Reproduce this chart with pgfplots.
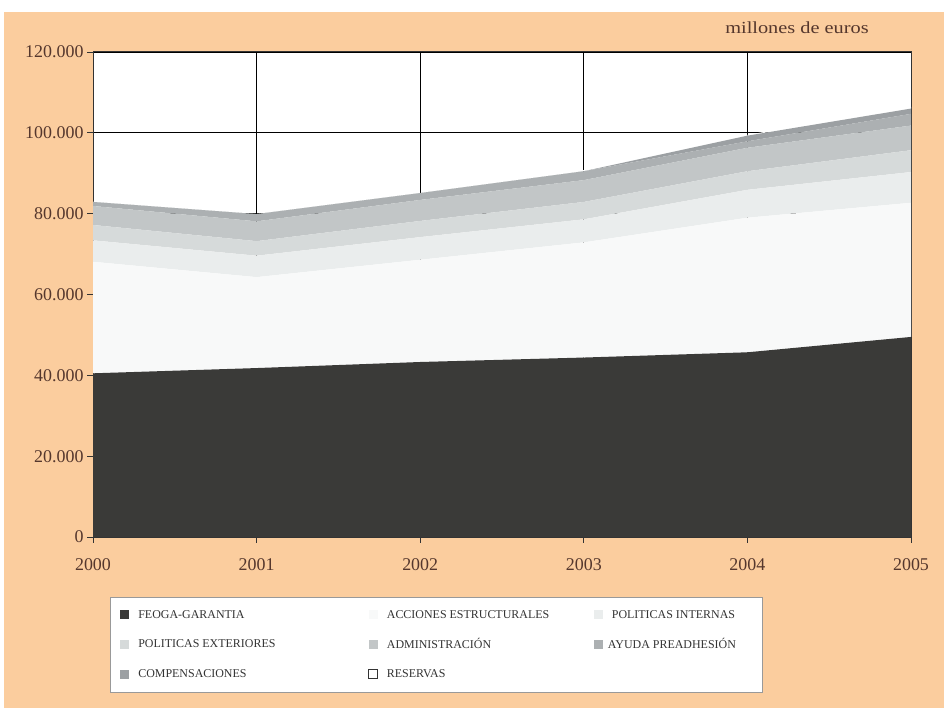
\documentclass[border=0pt]{standalone}
\usepackage{pgfplots}
\pgfplotsset{compat=1.18}
\usepackage{fontspec}
\setmainfont{Liberation Serif}

\definecolor{peach}{RGB}{251,205,158}
\definecolor{txtbrown}{RGB}{85,55,45}
\definecolor{cfeoga}{RGB}{58,58,56}
\definecolor{cestr}{RGB}{248,249,249}
\definecolor{cint}{RGB}{234,237,237}
\definecolor{cext}{RGB}{214,218,218}
\definecolor{cadm}{RGB}{194,198,199}
\definecolor{cpre}{RGB}{172,176,178}
\definecolor{ccomp}{RGB}{156,160,163}

\begin{document}
\begin{tikzpicture}
\fill[white] (0,0) rectangle (949bp,708bp);
\fill[peach] (4bp,0) rectangle (944bp,696bp);
\node[anchor=base, text=txtbrown, font=\fontsize{17}{19}\selectfont\addfontfeature{FakeStretch=1.2}] at (797bp,674bp) {millones de euros};

\begin{axis}[
  at={(93bp,171bp)}, anchor=south west,
  width=818bp, height=485bp, scale only axis,
  xmin=2000, xmax=2005, ymin=0, ymax=120000,
  stack plots=y,
  scaled y ticks=false,
  xtick={2000,2001,2002,2003,2004,2005},
  xticklabels={2000,2001,2002,2003,2004,2005},
  ytick={0,20000,40000,60000,80000,100000,120000},
  yticklabels={0,20.000,40.000,60.000,80.000,100.000,120.000},
  xmajorgrids, ymajorgrids,
  grid style={black, line width=0.7bp},
  axis line style={draw=black!80, line width=1bp},
  tick align=outside, xtick pos=left, ytick pos=left,
  major tick length=6bp,
  tick style={black!80, line width=0.8bp},
  ticklabel style={font=\fontsize{18}{20}\selectfont, text=txtbrown},
  xticklabel style={yshift=-12bp},
  axis background/.style={fill=white},
  legend columns=3,
  legend image code/.code={\fill[#1] (0bp,-4.5bp) rectangle (9bp,4.5bp);},
  legend style={at={(0.0208,-0.1237)}, anchor=north west,
    draw=black!40, fill=white, line width=0.6bp,
    font=\fontsize{12}{14}\selectfont, text=black!80,
    row sep=15bp, inner xsep=10bp, inner ysep=11bp},
]
\addplot[fill=cfeoga, draw=none] coordinates {
  (2000,40500) (2001,41800) (2002,43300) (2003,44400) (2004,45700) (2005,49500)} \closedcycle;
\addlegendentry{\makebox[235bp][l]{\hspace{7bp}FEOGA-GARANTIA}}
\addplot[fill=cestr, draw=none] coordinates {
  (2000,27600) (2001,22500) (2002,25300) (2003,28500) (2004,33300) (2005,33200)} \closedcycle;
\addlegendentry{\makebox[212bp][l]{\hspace{7bp}ACCIONES ESTRUCTURALES}}
\addplot[fill=cint, draw=none] coordinates {
  (2000,5300) (2001,5300) (2002,5600) (2003,5700) (2004,6900) (2005,7600)} \closedcycle;
\addlegendentry{\makebox[145bp][l]{\hspace{7bp}POLITICAS INTERNAS}}
\addplot[fill=cext, draw=none] coordinates {
  (2000,3800) (2001,3600) (2002,4000) (2003,4300) (2004,4600) (2005,5400)} \closedcycle;
\addlegendentry{\makebox[235bp][l]{\hspace{7bp}POLITICAS EXTERIORES}}
\addplot[fill=cadm, draw=none] coordinates {
  (2000,4700) (2001,4900) (2002,5200) (2003,5400) (2004,5800) (2005,6100)} \closedcycle;
\addlegendentry{\makebox[212bp][l]{\hspace{7bp}ADMINISTRACIÓN}}
\addplot[fill=cpre, draw=none] coordinates {
  (2000,1000) (2001,1800) (2002,1700) (2003,2200) (2004,1600) (2005,2900)} \closedcycle;
\addlegendentry{\makebox[145bp][l]{\hspace{3bp}AYUDA PREADHESIÓN}}
\addplot[fill=ccomp, draw=none] coordinates {
  (2000,0) (2001,0) (2002,0) (2003,0) (2004,1400) (2005,1300)} \closedcycle;
\addlegendentry{\makebox[235bp][l]{\hspace{7bp}COMPENSACIONES}}
\addplot[fill=white, draw=none,
  legend image code/.code={\draw[black!80, fill=white, line width=0.6bp] (0bp,-4.5bp) rectangle (9bp,4.5bp);}]
  coordinates {
  (2000,0) (2001,0) (2002,0) (2003,300) (2004,200) (2005,400)} \closedcycle;
\addlegendentry{\makebox[212bp][l]{\hspace{7bp}RESERVAS}}
\end{axis}
\end{tikzpicture}
\end{document}
